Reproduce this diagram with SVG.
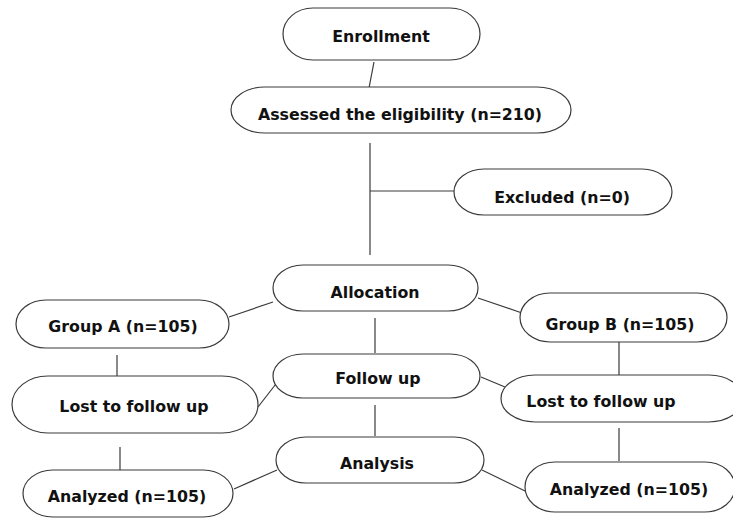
<svg xmlns="http://www.w3.org/2000/svg" width="733" height="518" viewBox="0 0 733 518">
<style>
.n{fill:#fff;stroke:#3a3a3a;stroke-width:1.2}
.t{font-family:"DejaVu Sans",Verdana,sans-serif;font-weight:bold;font-size:15.8px;fill:#111;text-anchor:middle}
.c line{stroke:#3a3a3a;stroke-width:1.2}
</style>
<rect width="733" height="518" fill="#fff"/>
<g class="c" id="connectors">
<line x1="374" y1="62" x2="369" y2="88"/>
<line x1="370" y1="143" x2="370" y2="255"/>
<line x1="370" y1="191" x2="454" y2="191"/>
<line x1="229" y1="317" x2="273" y2="302"/>
<line x1="478" y1="298" x2="522" y2="313"/>
<line x1="375" y1="318" x2="375" y2="353"/>
<line x1="117" y1="355" x2="117" y2="378"/>
<line x1="619" y1="342" x2="619" y2="375"/>
<line x1="258" y1="407" x2="279" y2="380"/>
<line x1="481" y1="377" x2="505" y2="387"/>
<line x1="375" y1="405" x2="375" y2="436"/>
<line x1="120" y1="447" x2="120" y2="472"/>
<line x1="619" y1="428" x2="619" y2="461"/>
<line x1="234" y1="489" x2="277" y2="470"/>
<line x1="482" y1="470" x2="525" y2="491"/>
</g>
<g id="enrollment"><rect class="n" x="283" y="8" width="197" height="52" rx="30" ry="26"/><text class="t" x="381" y="42">Enrollment</text></g>
<g id="assessed"><rect class="n" x="231" y="87" width="340" height="46" rx="34" ry="23"/><text class="t" x="400" y="120">Assessed the eligibility (n=210)</text></g>
<g id="excluded"><rect class="n" x="454" y="169" width="218" height="46" rx="30" ry="23"/><text class="t" x="562" y="203">Excluded (n=0)</text></g>
<g id="allocation"><rect class="n" x="273" y="265" width="205" height="46" rx="30" ry="23"/><text class="t" x="375" y="298">Allocation</text></g>
<g id="groupA"><rect class="n" x="16" y="300" width="213" height="48" rx="30" ry="24"/><text class="t" x="123" y="332">Group A (n=105)</text></g>
<g id="groupB"><rect class="n" x="520" y="293" width="207" height="49" rx="30" ry="24.5"/><text class="t" x="620" y="330">Group B (n=105)</text></g>
<g id="followup"><rect class="n" x="273" y="354" width="207" height="44" rx="30" ry="22"/><text class="t" x="378" y="384">Follow up</text></g>
<g id="lostA"><rect class="n" x="12" y="376" width="246" height="57" rx="36" ry="28.5"/><text class="t" x="134" y="412">Lost to follow up</text></g>
<g id="lostB"><rect class="n" x="501" y="375" width="242" height="47" rx="34" ry="23.5"/><text class="t" x="601" y="407">Lost to follow up</text></g>
<g id="analysis"><rect class="n" x="276" y="437" width="208" height="46" rx="30" ry="23"/><text class="t" x="377" y="469">Analysis</text></g>
<g id="analyzedA"><rect class="n" x="23" y="470" width="210" height="47" rx="30" ry="23.5"/><text class="t" x="127" y="502">Analyzed (n=105)</text></g>
<g id="analyzedB"><rect class="n" x="525" y="462" width="210" height="50" rx="30" ry="25"/><text class="t" x="629" y="495">Analyzed (n=105)</text></g>
</svg>
